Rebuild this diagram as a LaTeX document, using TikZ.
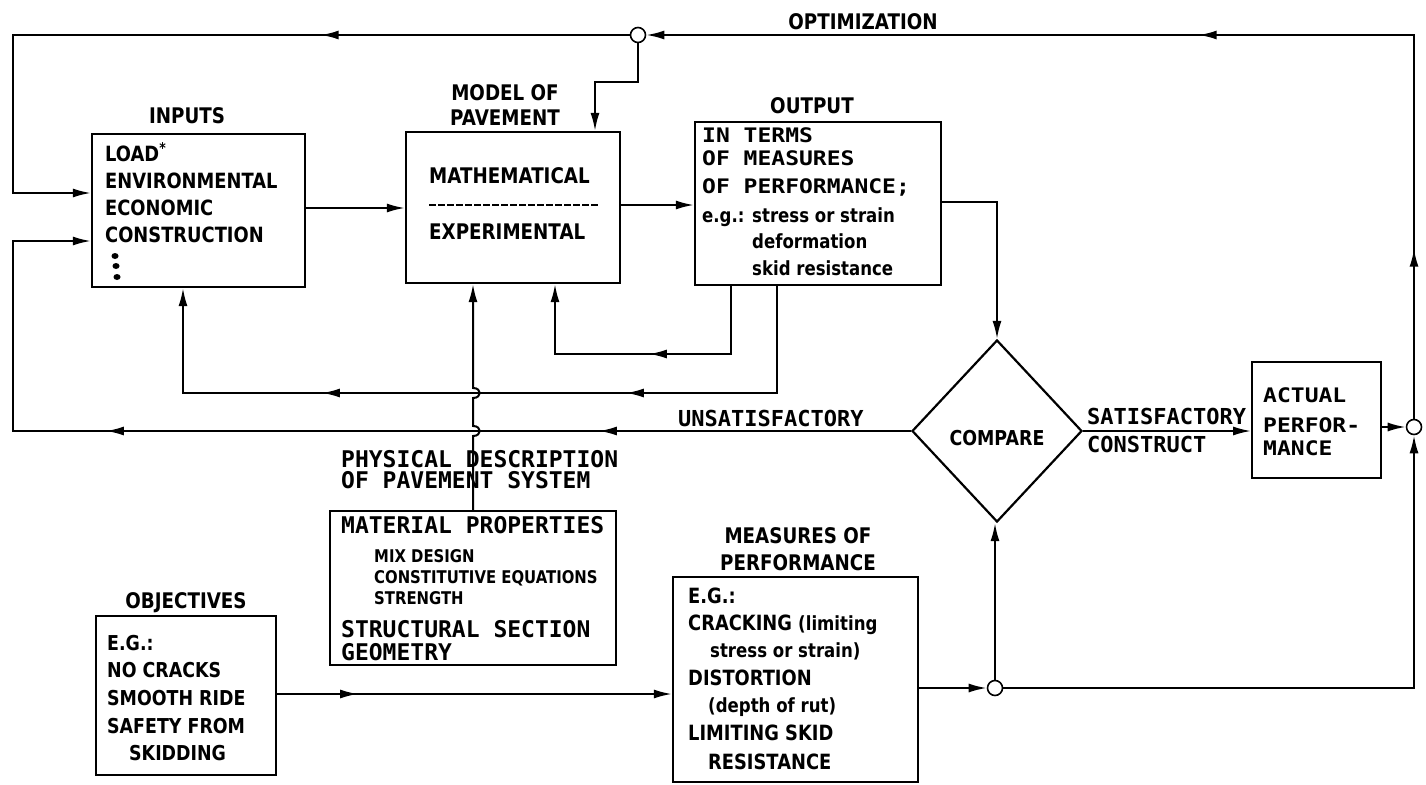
\documentclass[tikz,border=0pt]{standalone}
\usepackage{fontspec}
\setmainfont{DejaVu Sans}
\newfontfamily\labf{DejaVu Sans}[FakeStretch=0.85]
\newfontfamily\monoa{DejaVu Sans Mono}
\newfontfamily\monob{DejaVu Sans Mono}[FakeStretch=1.15]
\usetikzlibrary{arrows.meta,decorations.markings,shapes.geometric}
\tikzset{
  >={Latex[length=18pt,width=9pt]},
  box/.style={draw, line width=2.2pt, inner sep=0pt},
  conn/.style={line width=2pt, ->},
  marr/.style={postaction={decorate,decoration={markings,mark=at position #1 with {\arrow{>}}}}},
  junc/.style={circle, draw, line width=1.6pt, fill=white, inner sep=0pt, minimum size=15pt},
  hd/.style={font={\labf\bfseries\fontsize{21.5}{26}\selectfont}, inner sep=0pt, anchor=base},
  hdl/.style={font={\labf\bfseries\fontsize{21.5}{26}\selectfont}, inner sep=0pt, anchor=base west},
  tx/.style={font={\labf\bfseries\fontsize{21}{26}\selectfont}, inner sep=0pt, anchor=base west},
  txo/.style={font={\labf\bfseries\fontsize{20.5}{26}\selectfont}, inner sep=0pt, anchor=base west},
  lc/.style={font={\labf\bfseries\fontsize{19.5}{24}\selectfont}, inner sep=0pt, anchor=base west},
  sm/.style={font={\labf\bfseries\fontsize{17.5}{21}\selectfont}, inner sep=0pt, anchor=base west},
  ma/.style={font={\monoa\bfseries\fontsize{23}{26}\selectfont}, inner sep=0pt, anchor=base west},
  mas/.style={font={\monoa\bfseries\fontsize{22}{26}\selectfont}, inner sep=0pt, anchor=base west},
  mb/.style={font={\monob\bfseries\fontsize{20}{24}\selectfont}, inner sep=0pt, anchor=base west}
}
\begin{document}
\begin{tikzpicture}[x=1pt,y=-1pt]
\useasboundingbox (0,0) rectangle (1426,784);
\fill[white] (0,0) rectangle (1426,784);

% boxes
\node[box, minimum width=213pt, minimum height=153pt] (inputs) at (198.5,210.5) {};
\node[box, minimum width=214pt, minimum height=151pt] (model) at (513,207.5) {};
\node[box, minimum width=246pt, minimum height=163pt] (output) at (818,203.5) {};
\node[box, shape=diamond, minimum width=170pt, minimum height=182pt, text height=28pt, text depth=0pt,
      font={\labf\bfseries\fontsize{20.5}{24}\selectfont}] (compare) at (997,431) {COMPARE};
\node[box, line width=1.8pt, minimum width=129pt, minimum height=116pt] (actual) at (1316.5,420) {};
\node[box, minimum width=286pt, minimum height=154pt] (material) at (473,588) {};
\node[box, minimum width=180pt, minimum height=159pt] (objectives) at (186,695.5) {};
\node[box, minimum width=245pt, minimum height=205pt] (measures) at (795.5,679.5) {};

% junctions
\node[junc] (ctop) at (638,35) {};
\node[junc] (cright) at (1414,427) {};
\node[junc] (cbot) at (995,688) {};

% headings
\node[hd] (t-inputs) at (187,123) {INPUTS};
\node[hd] (t-model1) at (505,100) {MODEL OF};
\node[hd] (t-model2) at (505,125) {PAVEMENT};
\node[hd] (t-output) at (812,113) {OUTPUT};
\node[hd] (t-opt) at (863,30) {OPTIMIZATION};
\node[hd] (t-obj) at (186,608) {OBJECTIVES};
\node[hd] (t-mp1) at (798,543) {MEASURES OF};
\node[hd] (t-mp2) at (798,570) {PERFORMANCE};

% inputs text
\node[tx] (i1) at (105,161) {LOAD\textsuperscript{*}};
\node[tx] (i2) at (105,188) {ENVIRONMENTAL};
\node[tx] (i3) at (105,215) {ECONOMIC};
\node[tx] (i4) at (105,242) {CONSTRUCTION};
\fill (115,256) ellipse (3.5pt and 3pt);
\fill (116,266) ellipse (3.5pt and 3pt);
\fill (117,277) ellipse (3.5pt and 3pt);

% model text
\node[hdl] (m1) at (429,183) {MATHEMATICAL};
\draw[line width=2pt, dash pattern=on 7pt off 2pt] (429,205) -- (599,205);
\node[hdl] (m2) at (429,239) {EXPERIMENTAL};

% output text
\node[mb] (o1) at (702,142) {IN TERMS};
\node[mb] (o2) at (702,165) {OF MEASURES};
\node[mb] (o3) at (702,193) {OF PERFORMANCE;};
\node[lc] (o4) at (702,222) {e.g.: stress or strain};
\node[lc] (o5) at (752,248) {deformation};
\node[lc] (o6) at (752,275) {skid resistance};

% physical description
\node[ma] (p1) at (341,467) {PHYSICAL DESCRIPTION};
\node[ma] (p2) at (341,488) {OF PAVEMENT SYSTEM};
\node[ma] (mt1) at (341,533) {MATERIAL PROPERTIES};
\node[sm] (mt2) at (374,562) {MIX DESIGN};
\node[sm] (mt3) at (374,583) {CONSTITUTIVE EQUATIONS};
\node[sm] (mt4) at (374,604) {STRENGTH};
\node[ma] (mt5) at (341,637) {STRUCTURAL SECTION};
\node[ma] (mt6) at (341,660) {GEOMETRY};

% objectives
\node[txo] (ob1) at (107,650) {E.G.:};
\node[txo] (ob2) at (107,677) {NO CRACKS};
\node[txo] (ob3) at (107,705) {SMOOTH RIDE};
\node[txo] (ob4) at (107,733) {SAFETY FROM};
\node[txo] (ob5) at (129,760) {SKIDDING};

% measures
\node[tx] (ms1) at (688,603) {E.G.:};
\node[tx] (ms2) at (688,630) {CRACKING {\fontsize{19.5}{24}\selectfont(limiting}};
\node[lc] (ms3) at (710,657) {stress or strain)};
\node[tx] (ms4) at (688,685) {DISTORTION};
\node[lc] (ms5) at (708,712) {(depth of rut)};
\node[tx] (ms6) at (688,740) {LIMITING SKID};
\node[tx] (ms7) at (708,769) {RESISTANCE};

% compare labels
\node[mas] (l-sat) at (1087,424) {SATISFACTORY};
\node[mas] (l-con) at (1087,452) {CONSTRUCT};
\node[mas] (l-uns) at (678,426) {UNSATISFACTORY};

% actual performance
\node[mb] (a1) at (1263,402) {ACTUAL};
\node[mb] (a2) at (1263,432) {PERFOR-};
\node[mb] (a3) at (1263,455) {MANCE};

% connectors
\draw[conn, marr=170pt, marr=599pt] (cright.north) -- (1414,35) -- (ctop.east);
\draw[conn, marr=309pt] (ctop.west) -- (13,35) -- (13,193) -- (inputs.west |- 0,193);
\draw[conn] (ctop.south) -- (638,82) -- (595,82) -- (model.north -| 595,0);
\draw[conn] (inputs.east |- 0,208) -- (model.west |- 0,208);
\draw[conn] (model.east |- 0,205) -- (output.west |- 0,205);
\draw[conn] (output.east |- 0,202) -- (compare.north |- 0,202) -- (compare.north);
\draw[conn, marr=150pt] (output.south -| 731,0) -- (731,354) -- (555,354) -- (model.south -| 555,0);
\draw[conn, marr=258pt, marr=562pt] (output.south -| 777,0) -- (777,393) -- (183,393) -- (inputs.south -| 183,0);
\draw[conn, marr=312pt, marr=805pt] (compare.west) -- (13,431) -- (13,241) -- (inputs.west |- 0,241);
\draw[conn] (material.north -| 473,0) -- (473,436) .. controls (482,436) and (482,426) .. (473,426)
   -- (473,398) .. controls (482,398) and (482,388) .. (473,388) -- (model.south -| 473,0);
\draw[conn] (compare.east) -- (actual.west |- compare.east);
\draw[conn] (actual.east |- cright.west) -- (cright.west);
\draw[conn, marr=81pt] (objectives.east |- 0,694) -- (measures.west |- 0,694);
\draw[conn] (measures.east |- 0,688) -- (cbot.west);
\draw[conn] (cbot.north) -- (cbot.north |- compare.south);
\draw[conn] (cbot.east) -- (1414,688) -- (cright.south);
\end{tikzpicture}
\end{document}
